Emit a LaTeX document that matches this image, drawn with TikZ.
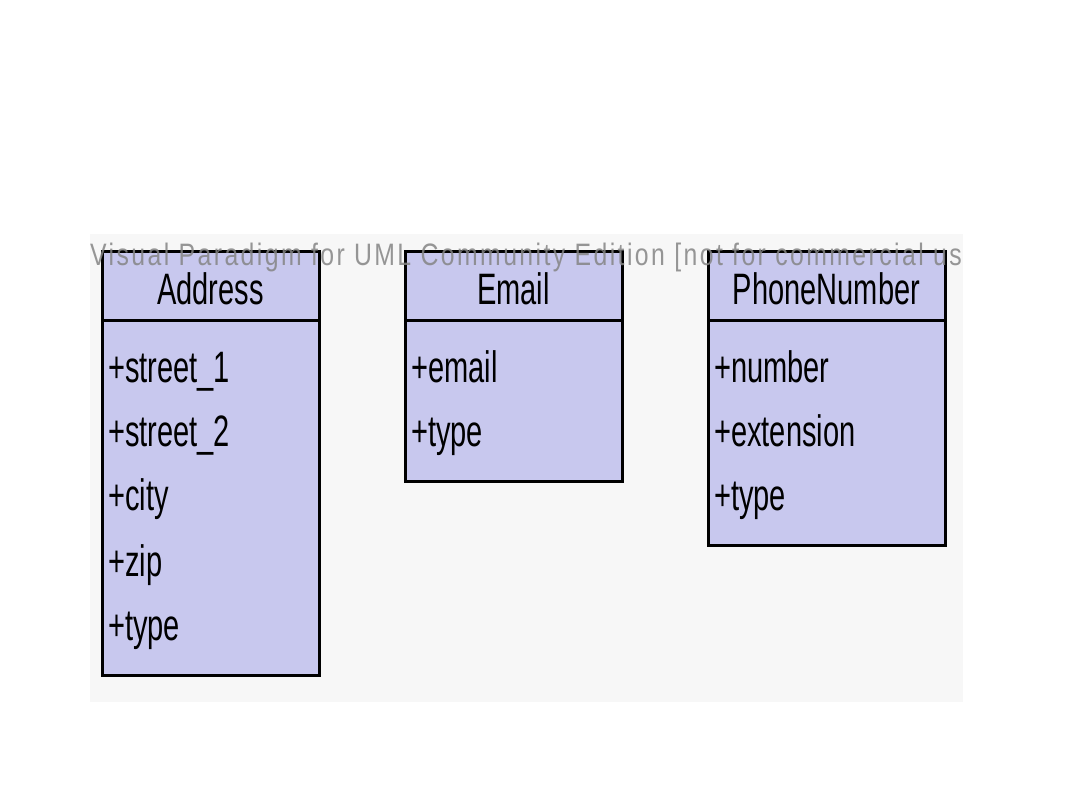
\documentclass[tikz,border=0pt]{standalone}
\usepackage{fontspec}
\setmainfont{Liberation Sans}
\newfontfamily\umlfont[FakeStretch=0.66]{Liberation Sans}
\newfontfamily\wmfont[FakeStretch=0.8,LetterSpace=7.8]{Liberation Sans}
\definecolor{panel}{HTML}{F7F7F7}
\definecolor{clsfill}{HTML}{C8C8EE}
\definecolor{wm}{HTML}{858585}
\begin{document}
\begin{tikzpicture}[x=1pt,y=-1pt,
  cls/.style={draw=black,line width=3pt,fill=clsfill},
  sep/.style={draw=black,line width=3pt},
  title/.style={anchor=base,inner sep=0pt,font=\umlfont\fontsize{44}{44}\selectfont},
  attr/.style={anchor=base west,inner sep=0pt,font=\umlfont\fontsize{44}{44}\selectfont},
  wmtext/.style={anchor=base west,inner sep=0pt,text=wm,opacity=0.85,font=\wmfont\fontsize{31}{31}\selectfont}]
\useasboundingbox[fill=white] (0,0) rectangle (1080,810);
\fill[panel] (90,234) rectangle (963,702);
% Address
\draw[cls] (102,252) rectangle (319,675);
\coordinate (aL) at (102,321); \coordinate (aR) at (319,321);
\draw[sep] (aL) -- (aR);
\node[title] (addrT) at (210.5,305) {Address};
\node[attr] (a1) at (108,383) {+street\_1};
\node[attr] (a2) at (108,447) {+street\_2};
\node[attr] (a3) at (108,511) {+city};
\node[attr] (a4) at (108,576) {+zip};
\node[attr] (a5) at (108,640) {+type};
% Email
\draw[cls] (405,252) rectangle (622,481);
\coordinate (eL) at (405,321); \coordinate (eR) at (622,321);
\draw[sep] (eL) -- (eR);
\node[title] (emailT) at (513.5,305) {Email};
\node[attr] (e1) at (411,383) {+email};
\node[attr] (e2) at (411,447) {+type};
% PhoneNumber
\draw[cls] (708,252) rectangle (945,545);
\coordinate (pL) at (708,321); \coordinate (pR) at (945,321);
\draw[sep] (pL) -- (pR);
\node[title] (phoneT) at (826.5,305) {PhoneNumber};
\node[attr] (p1) at (714,383) {+number};
\node[attr] (p2) at (714,447) {+extension};
\node[attr] (p3) at (714,511) {+type};
% watermark
\begin{scope}
\clip (90,234) rectangle (963,702);
\node[wmtext] (wmark) at (90,266) {Visual Paradigm for UML Community Edition [not for commercial use]};
\end{scope}
\end{tikzpicture}
\end{document}
